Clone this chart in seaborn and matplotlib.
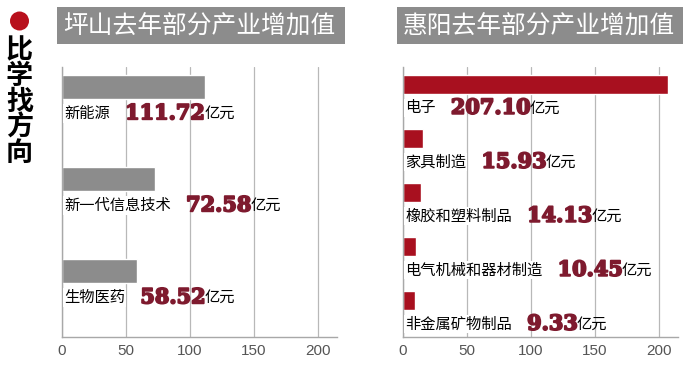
import matplotlib.pyplot as plt
import matplotlib.patheffects as pe
import seaborn as sns
import pandas as pd
from matplotlib.patches import Rectangle, Ellipse

# 数据
left_title = "坪山去年部分产业增加值"
left_cats = ["新能源", "新一代信息技术", "生物医药"]
left_vals = [111.72, 72.58, 58.52]

right_title = "惠阳去年部分产业增加值"
right_cats = ["电子", "家具制造", "橡胶和塑料制品", "电气机械和器材制造", "非金属矿物制品"]
right_vals = [207.10, 15.93, 14.13, 10.45, 9.33]

side_text = "比学找方向"
unit = "亿元"
ticks = [0, 50, 100, 150, 200]

sns.set_style("white")
plt.rcParams['font.family'] = ['Noto Sans CJK SC', 'DejaVu Sans']

W, H = 683, 369
fig = plt.figure(figsize=(6.83, 3.69), dpi=100)
fig.patch.set_facecolor("white")

GRAY = "#8c8c8c"
RED = "#a8101f"
VAL = "#7e1a2e"


def px(x0, y0, x1, y1):
    # 像素 -> figure 坐标 [left, bottom, width, height]
    return [x0 / W, 1 - y1 / H, (x1 - x0) / W, (y1 - y0) / H]


def panel(rect, cats, vals, color, bar_h, pad_top, pad_bot, title, title_box):
    ax = fig.add_axes(rect)
    df = pd.DataFrame({"cat": cats, "val": vals})
    sns.barplot(data=df, x="val", y="cat", color=color, width=bar_h,
                saturation=1, ax=ax, zorder=2)
    n = len(cats)
    ax.set_xlim(0, 215)
    ax.set_ylim(n - 1 + pad_bot, -pad_top)
    ax.set_xticks(ticks)
    ax.set_xlabel("")
    ax.set_ylabel("")
    ax.tick_params(left=False, labelleft=False, bottom=False, length=0, pad=5,
                   labelsize=11, labelcolor="#555555")
    for lab in ax.get_xticklabels():
        lab.set_family(["Liberation Sans Narrow", "Liberation Sans", "DejaVu Sans"])
    ax.xaxis.grid(True, color="#b8b8b8", lw=0.9, zorder=0)
    ax.set_axisbelow(True)
    for s in ["top", "right"]:
        ax.spines[s].set_visible(False)
    for s in ["left", "bottom"]:
        ax.spines[s].set_color("#a8a8a8")
        ax.spines[s].set_linewidth(1)

    for patch, cat, v in zip(ax.patches, cats, vals):
        yb = patch.get_y() + patch.get_height()
        lab = ax.annotate(cat, xy=(0, yb), xytext=(1.5, -10), textcoords="offset points",
                          ha="left", va="center", fontsize=11, color="black", zorder=4,
                          bbox=dict(facecolor="white", edgecolor="none", pad=0.5))
        vt = ax.annotate(f"{v:.2f}", xy=(1, 0.5), xycoords=lab, xytext=(11, 0),
                         textcoords="offset points", ha="left", va="center",
                         fontsize=15, fontweight="bold", color=VAL, zorder=4,
                         family=["DejaVu Serif"],
                         path_effects=[pe.withStroke(linewidth=1.3, foreground=VAL)])
        ax.annotate(unit, xy=(1, 0.5), xycoords=vt, xytext=(-1, 0),
                    textcoords="offset points", ha="left", va="center",
                    fontsize=11, color="black", zorder=4)

    # 标题框
    bx0, by0, bx1, by1 = title_box
    fig.patches.append(Rectangle((bx0 / W, 1 - by1 / H), (bx1 - bx0) / W, (by1 - by0) / H,
                                 transform=fig.transFigure, facecolor=GRAY,
                                 edgecolor="none"))
    fig.text((bx0 + 6) / W, 1 - ((by0 + by1) / 2 + 1) / H, title, color="white",
             fontsize=17.8, ha="left", va="center")
    return ax


panel(px(62, 67, 337, 337), left_cats, left_vals, GRAY, 0.27, 0.217, 0.717,
      left_title, (57, 7, 345, 44))
panel(px(403, 67, 678, 337), right_cats, right_vals, RED, 0.35, 0.324, 0.676,
      right_title, (397, 7, 683, 44))

# 左侧竖排文字
fig.patches.append(Ellipse((19.5 / W, 1 - 21 / H), 19 / W, 19 / H, transform=fig.transFigure,
                           facecolor="#b8101c", edgecolor="none"))
for i, ch in enumerate(side_text):
    fig.text(19.5 / W, 1 - (50 + i * 25.8) / H, ch, fontsize=19.5, fontweight="bold",
             ha="center", va="center", color="black")

fig.savefig("out.png", dpi=100, facecolor="white")
